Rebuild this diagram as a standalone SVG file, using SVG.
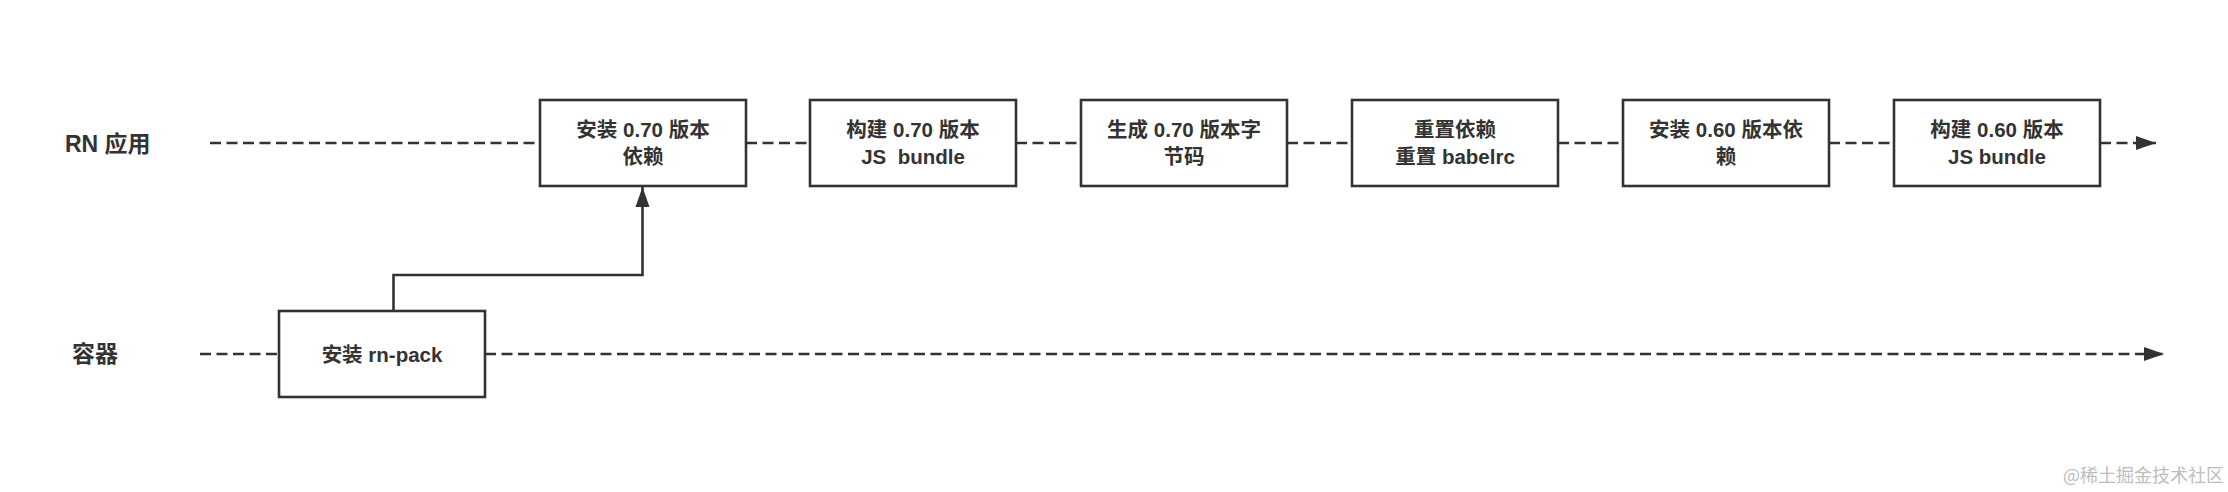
<svg xmlns="http://www.w3.org/2000/svg" width="2228" height="492" viewBox="0 0 2228 492">
<style>
.bg{fill:#ffffff}
.box{fill:#ffffff;stroke:#333333;stroke-width:2.6}
.t{font-family:"Liberation Sans","Noto Sans CJK SC",sans-serif;font-size:20.5px;font-weight:bold;fill:#333333;text-anchor:middle}
.lbl{font-family:"Liberation Sans","Noto Sans CJK SC",sans-serif;font-size:23px;font-weight:bold;fill:#333333}
.dash{fill:none;stroke:#333333;stroke-width:2.7;stroke-dasharray:11 5.5}
.solid{fill:none;stroke:#333333;stroke-width:2.6}
.wm{font-family:"Noto Sans CJK SC",sans-serif;font-size:18px;fill:#bdbdbd}
</style>
<defs>
<marker id="arr" markerUnits="userSpaceOnUse" markerWidth="22" markerHeight="16" refX="20" refY="7" orient="auto" viewBox="0 0 22 14">
<path d="M0,0 L20,7 L0,14 Z" fill="#333333"/>
</marker>
</defs>
<rect class="bg" x="0" y="0" width="2228" height="492"/>
<g id="lane-labels">
<text class="lbl" x="65" y="152">RN 应用</text>
<text class="lbl" x="72" y="362">容器</text>
</g>
<g id="connectors">
<path class="dash" d="M210,143 H540"/>
<path class="dash" d="M746,143 H810"/>
<path class="dash" d="M1016,143 H1081"/>
<path class="dash" d="M1287,143 H1352"/>
<path class="dash" d="M1558,143 H1623"/>
<path class="dash" d="M1829,143 H1894"/>
<path class="dash" d="M2100,143 H2156" marker-end="url(#arr)"/>
<path class="dash" d="M200,354 H279"/>
<path class="dash" d="M485,354 H2164" marker-end="url(#arr)"/>
<path class="solid" d="M393.5,311 V275 H642.5 V187" marker-end="url(#arr)"/>
</g>
<g id="n1"><rect class="box" x="540" y="100" width="206" height="86"/><text class="t" x="643" y="137">安装 0.70 版本</text><text class="t" x="643" y="164">依赖</text></g>
<g id="n2"><rect class="box" x="810" y="100" width="206" height="86"/><text class="t" x="913" y="137">构建 0.70 版本</text><text class="t" x="913" y="164">JS&#160; bundle</text></g>
<g id="n3"><rect class="box" x="1081" y="100" width="206" height="86"/><text class="t" x="1184" y="137">生成 0.70 版本字</text><text class="t" x="1184" y="164">节码</text></g>
<g id="n4"><rect class="box" x="1352" y="100" width="206" height="86"/><text class="t" x="1455" y="137">重置依赖</text><text class="t" x="1455" y="164">重置 babelrc</text></g>
<g id="n5"><rect class="box" x="1623" y="100" width="206" height="86"/><text class="t" x="1726" y="137">安装 0.60 版本依</text><text class="t" x="1726" y="164">赖</text></g>
<g id="n6"><rect class="box" x="1894" y="100" width="206" height="86"/><text class="t" x="1997" y="137">构建 0.60 版本</text><text class="t" x="1997" y="164">JS bundle</text></g>
<g id="n7"><rect class="box" x="279" y="311" width="206" height="86"/><text class="t" x="382" y="362">安装 rn-pack</text></g>
<g id="watermark"><text class="wm" x="2063" y="482">@稀土掘金技术社区</text></g>
</svg>
